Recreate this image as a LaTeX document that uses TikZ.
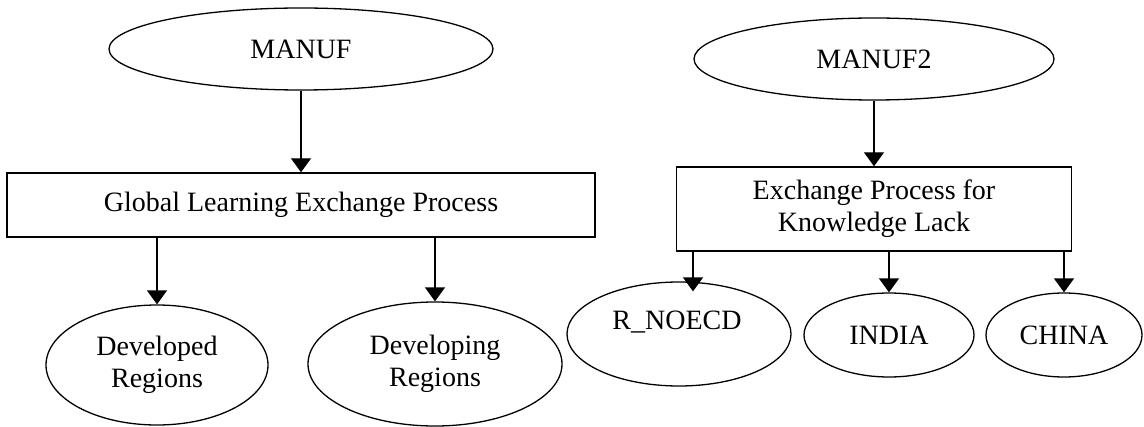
\documentclass[tikz,border=0pt]{standalone}
\usepackage{fontspec}
\setmainfont{Liberation Serif}
\usetikzlibrary{arrows.meta,positioning,shapes.geometric}

\begin{document}
\begin{tikzpicture}[x=0.5pt, y=-0.5pt, font=\fontsize{14}{16}\selectfont]
    \tikzset{oval/.style={ellipse, draw, line width=0.65pt, inner sep=0pt, align=center},
      procbox/.style={rectangle, draw, line width=0.7pt, inner sep=0pt, align=center},
      arr/.style={-{Triangle[width=10pt,length=7pt]}, line width=0.7pt}}
    \useasboundingbox (0,0) rectangle (1144,427);

    % Left tree: MANUF
    \node[oval, minimum width=192pt, minimum height=41pt] (manuf) at (301,49) {MANUF};
    \node[procbox, minimum width=294pt, minimum height=32pt] (glep) at (301,205) {Global Learning Exchange Process};
    \node[oval, minimum width=111pt, minimum height=60pt] (dev) at (157,365) {Developed\\Regions};
    \node[oval, minimum width=127pt, minimum height=62pt] (deving) at (435,364) {Developing\\Regions};

    \draw[arr] (manuf.south) -- (glep.north);
    \draw[arr] (dev.north |- glep.south) -- (dev.north);
    \draw[arr] (deving.north |- glep.south) -- (deving.north);

    % Right tree: MANUF2
    \node[oval, minimum width=180pt, minimum height=41pt] (manuf2) at (874,59) {MANUF2};
    \node[procbox, minimum width=197.5pt, minimum height=42pt] (kbox) at (874,209) {Exchange Process for\\Knowledge Lack};
    \node[oval, minimum width=112pt, minimum height=52pt] (rnoecd) at (679,334) {};
    \node (rtxt) at (677,322) {R\_NOECD};
    \node[oval, minimum width=85pt, minimum height=42pt] (india) at (889,335) {INDIA};
    \node[oval, minimum width=78pt, minimum height=42pt] (china) at (1064,335) {CHINA};
    \coordinate (rtip) at ([xshift=7pt, yshift=-5pt]rnoecd.north);

    \draw[arr] (manuf2.south) -- (kbox.north);
    \draw[arr] (kbox.south -| rtip) -- (rtip);
    \draw[arr] (kbox.south -| india.north) -- (india.north);
    \draw[arr] (kbox.south -| china.north) -- (china.north);
  \end{tikzpicture}
\end{document}
